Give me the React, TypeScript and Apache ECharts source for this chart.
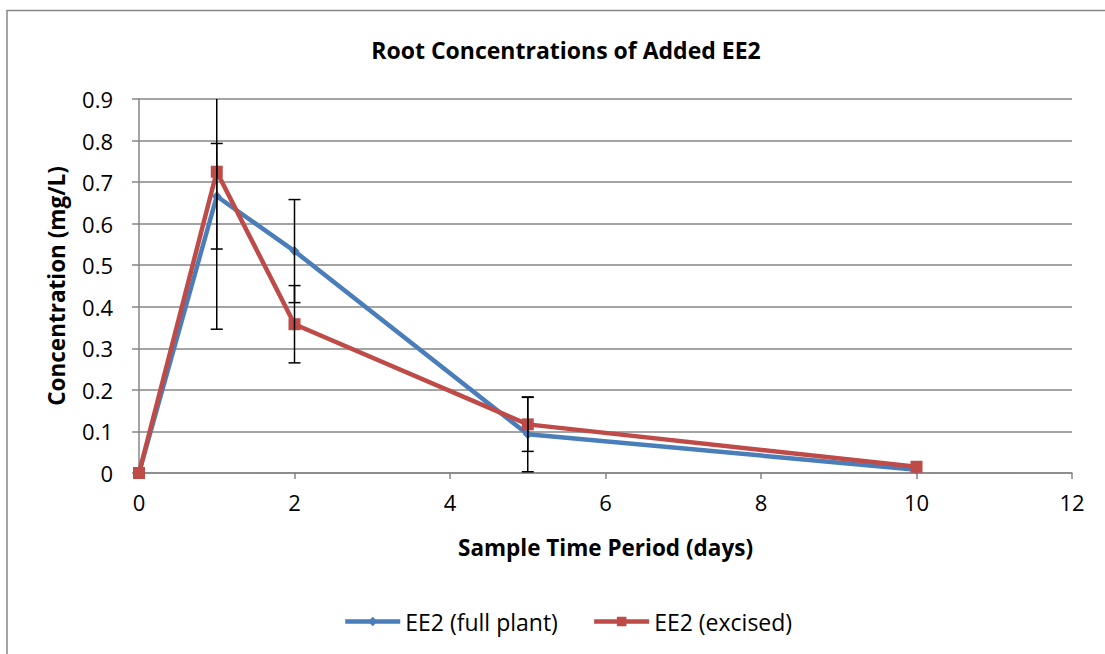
import React, { useEffect, useRef } from "react";
import * as echarts from "echarts";

const days = [0, 1, 2, 5, 10];
const fullPlant = [0, 0.666, 0.534, 0.093, 0.008];
const excised = [0, 0.725, 0.358, 0.117, 0.015];
const fullPlantErr = [0, 0.127, 0.124, 0.09, 0];
const excisedErr = [0, 0.379, 0.093, 0.065, 0];

const FONT = "'Open Sans', sans-serif";

function errorSeries(name: string, ys: number[], errs: number[]) {
  return {
    type: "custom",
    name: name + " err",
    clip: true,
    silent: true,
    z: 5,
    data: days.map((d, i) => [d, ys[i], errs[i]]),
    renderItem: (params: any, api: any) => {
      const x = api.value(0);
      const y = api.value(1);
      const e = api.value(2);
      if (!e) return { type: "group", children: [] };
      const top = api.coord([x, y + e]);
      const bot = api.coord([x, y - e]);
      const hw = 6;
      const style = { stroke: "#000", lineWidth: 1.5 };
      return {
        type: "group",
        children: [
          { type: "line", shape: { x1: top[0], y1: top[1], x2: bot[0], y2: bot[1] }, style },
          { type: "line", shape: { x1: top[0] - hw, y1: top[1], x2: top[0] + hw, y2: top[1] }, style },
          { type: "line", shape: { x1: bot[0] - hw, y1: bot[1], x2: bot[0] + hw, y2: bot[1] }, style },
        ],
      };
    },
  };
}

export default function App() {
  const ref = useRef<HTMLDivElement>(null);
  useEffect(() => {
    document.body.style.margin = "0";
    const chart = echarts.init(ref.current!, null, { renderer: "svg" });
    chart.setOption({
      animation: false,
      backgroundColor: "#fff",
      textStyle: { fontFamily: FONT },
      title: {
        text: "Root Concentrations of Added EE2",
        left: 561,
        top: 33,
        textAlign: "center",
        textStyle: { fontSize: 23, fontWeight: "bold", color: "#000", fontFamily: FONT },
      },
      graphic: [
        {
          type: "polyline",
          shape: { points: [[7, 700], [7, 10.5], [1200, 10.5]] },
          style: { stroke: "#868686", lineWidth: 1.5, fill: "none" },
          silent: true,
        },
      ],
      grid: { left: 139, right: 33, top: 99, bottom: 181 },
      legend: {
        top: 605,
        left: 338,
        itemWidth: 55,
        itemHeight: 12,
        itemGap: 34,
        lineStyle: { width: 4.5 },
        data: ["EE2 (full plant)", "EE2 (excised)"],
        textStyle: { fontSize: 23, color: "#000", fontFamily: FONT },
      },
      xAxis: {
        type: "value",
        min: 0,
        max: 12,
        interval: 2,
        name: "Sample Time Period (days)",
        nameLocation: "middle",
        nameGap: 63,
        nameTextStyle: { fontSize: 22.5, fontWeight: "bold", color: "#000", fontFamily: FONT },
        axisLine: { lineStyle: { color: "#868686", width: 1.5 } },
        axisTick: { show: true, length: 6, lineStyle: { color: "#868686", width: 1.5 } },
        axisLabel: { fontSize: 22, color: "#000", margin: 18, fontFamily: FONT },
        splitLine: { show: false },
      },
      yAxis: {
        type: "value",
        min: 0,
        max: 0.9,
        interval: 0.1,
        name: "Concentration (mg/L)",
        nameLocation: "middle",
        nameGap: 71,
        nameRotate: 90,
        nameTextStyle: { fontSize: 22.5, fontWeight: "bold", color: "#000", fontFamily: FONT },
        axisLine: { show: true, lineStyle: { color: "#868686", width: 1.5 } },
        axisTick: { show: true, length: 7, lineStyle: { color: "#868686", width: 1.5 } },
        axisLabel: {
          fontSize: 22,
          color: "#000",
          margin: 26,
          fontFamily: FONT,
          formatter: (v: number) => (v === 0 ? "0" : v.toFixed(1)),
        },
        splitLine: { show: true, lineStyle: { color: "#868686", width: 1.5 } },
      },
      series: [
        {
          type: "line",
          name: "EE2 (full plant)",
          data: days.map((d, i) => [d, fullPlant[i]]),
          symbol: "diamond",
          symbolSize: 10,
          lineStyle: { color: "#4A7EBB", width: 4.5 },
          itemStyle: { color: "#4A7EBB" },
          z: 3,
        },
        {
          type: "line",
          name: "EE2 (excised)",
          data: days.map((d, i) => [d, excised[i]]),
          symbol: "rect",
          symbolSize: 12,
          lineStyle: { color: "#BE4B48", width: 4.5 },
          itemStyle: { color: "#BE4B48" },
          z: 4,
        },
        errorSeries("EE2 (full plant)", fullPlant, fullPlantErr),
        errorSeries("EE2 (excised)", excised, excisedErr),
      ],
    });
    return () => chart.dispose();
  }, []);
  return <div ref={ref} style={{ width: 1105, height: 654 }} />;
}
